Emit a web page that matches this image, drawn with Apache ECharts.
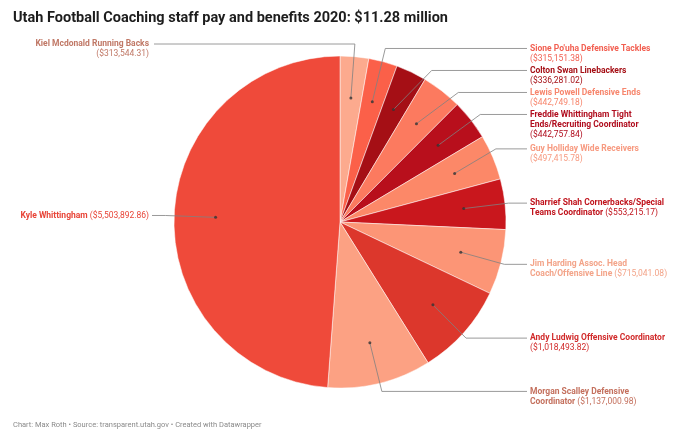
<!DOCTYPE html>
<html>
<head>
<meta charset="utf-8">
<script src="https://cdn.jsdelivr.net/npm/echarts@6/dist/echarts.min.js"></script>
<style>
  html, body { margin: 0; padding: 0; background: #fff; }
  #chart { width: 680px; height: 436px; }
</style>
</head>
<body>
<div id="chart"></div>
<script>
// 数据：按顺时针顺序（从正上方开始）
var names = [
    'Kiel Mcdonald Running Backs',
    'Sione Po\'uha Defensive Tackles',
    'Colton Swan Linebackers',
    'Lewis Powell Defensive Ends',
    'Freddie Whittingham Tight\nEnds/Recruiting Coordinator',
    'Guy Holliday Wide Receivers',
    'Sharrief Shah Cornerbacks/Special\nTeams Coordinator',
    'Jim Harding Assoc. Head\nCoach/Offensive Line',
    'Andy Ludwig Offensive Coordinator',
    'Morgan Scalley Defensive\nCoordinator',
    'Kyle Whittingham'
];
var values = [313544.31, 315151.38, 336281.02, 442749.18, 442757.84, 497415.78,
              553215.17, 715041.08, 1018493.82, 1137000.98, 5503892.86];
// 金额是否另起一行
var valueOnNewLine = [true, true, true, true, true, true, false, false, true, false, false];
// 标签放在左上方的项
var leftTopIndex = 0;

var sliceColors = ['#fcaa8e', '#fb6049', '#a50f15', '#fc7a5f', '#b80f1c', '#fc8868',
                   '#c9171d', '#fc9576', '#dc372c', '#fca183', '#ef4a3a'];
var labelColors = ['#c07866', '#f25f51', '#a50f15', '#f7866d', '#b00d1e', '#f79a80',
                   '#c0131c', '#f3a489', '#d12b2b', '#c4705d', '#e84538'];

var myChart = echarts.init(document.getElementById('chart'), null, { renderer: 'canvas' });

var CX = 340, CY = 222, R = 166;
var DOT_RATIO = 0.75;
var RIGHT_COL = 530, LEFT_COL = 149;

function money(v) {
    return '$' + v.toLocaleString('en-US', { minimumFractionDigits: 2, maximumFractionDigits: 2 });
}

var total = 0;
for (var i = 0; i < values.length; i++) total += values[i];

// 每块中点（用于圆点）
var dotData = [];
var acc = 0;
for (var i = 0; i < values.length; i++) {
    dotData.push([DOT_RATIO, acc + values[i] / 2]);
    acc += values[i];
}

var pieData = [], labelData = [], leftData = [];
for (var i = 0; i < values.length; i++) {
    pieData.push({ name: names[i], value: values[i], itemStyle: { color: sliceColors[i] } });
    labelData.push({
        name: names[i], value: values[i],
        label: { show: i !== leftTopIndex, color: labelColors[i] },
        labelLine: { show: i !== leftTopIndex }
    });
    leftData.push({
        name: names[i], value: values[i],
        label: { show: i === leftTopIndex, color: labelColors[i] },
        labelLine: { show: i === leftTopIndex }
    });
}

function formatLabel(p) {
    var lines = names[p.dataIndex].split('\n');
    var s = lines.map(function (l) { return '{n|' + l + '}'; }).join('\n');
    var v = '{v|(' + money(p.value) + ')}';
    return valueOnNewLine[p.dataIndex] ? s + '\n' + v : s + ' ' + v;
}

var labelStyle = {
    show: true,
    formatter: formatLabel,
    fontFamily: 'Roboto',
    fontSize: 8.5,
    lineHeight: 10,
    width: 170,
    rich: {
        n: { fontFamily: 'Roboto', fontSize: 8.5, fontWeight: 'bold', lineHeight: 10 },
        v: { fontFamily: 'Roboto', fontSize: 8.5, fontWeight: 'normal', lineHeight: 10 }
    }
};

// 标签放到固定列，引线对齐第一行
function columnLayout(p) {
    var pts = p.labelLinePoints;
    if (!pts) return;
    var res;
    if (pts[0][1] >= CY - 20) {
        // 下半部分：第一行对准引线原位置
        var ly = pts[2][1];
        res = { y: ly - 5, verticalAlign: 'top' };
    } else {
        var ly = p.labelRect.y + 5;
        res = {};
    }
    if (pts[0][0] > CX) {
        res.x = RIGHT_COL;
        res.align = 'left';
        res.labelLinePoints = [pts[0], [pts[1][0], ly], [RIGHT_COL - 3, ly]];
    } else {
        res.x = LEFT_COL;
        res.align = 'right';
        res.labelLinePoints = [pts[0], [pts[1][0], ly], [LEFT_COL + 3, ly]];
    }
    return res;
}

function leftTopLayout(p) {
    var pts = p.labelLinePoints;
    if (!pts) return;
    var y = CY - R - 12;
    return {
        x: LEFT_COL, y: y - 5, align: 'right', verticalAlign: 'top',
        labelLinePoints: [pts[0], [pts[0][0] + 4, y], [LEFT_COL + 5, y]]
    };
}

var lineStyle = { color: '#808080', width: 0.8 };

var option = {
    animation: false,
    title: [{
        text: 'Utah Football Coaching staff pay and benefits 2020: $11.28 million',
        left: 8,
        top: 6,
        textStyle: { fontFamily: 'Roboto', fontSize: 14.5, fontWeight: 'bold', color: '#1d1d1d' }
    }, {
        text: 'Chart: Max Roth • Source: transparent.utah.gov • Created with Datawrapper',
        left: 8,
        top: 416,
        textStyle: { fontFamily: 'Roboto', fontSize: 7.5, fontWeight: 'normal', color: '#8a8a8a' }
    }],
    polar: { center: [CX, CY], radius: R },
    angleAxis: { type: 'value', min: 0, max: total, startAngle: 90, show: false },
    radiusAxis: { type: 'value', min: 0, max: 1, show: false },
    series: [
        {
            name: 'pay',
            type: 'pie',
            center: [CX, CY],
            radius: R,
            startAngle: 90,
            silent: true,
            label: { show: false },
            labelLine: { show: false },
            itemStyle: { borderColor: '#fff', borderWidth: 0.5 },
            data: pieData
        },
        {
            name: 'labels',
            type: 'pie',
            center: [CX, CY],
            radius: R * DOT_RATIO,
            startAngle: 90,
            silent: true,
            z: 5,
            itemStyle: { color: 'rgba(0,0,0,0)' },
            label: labelStyle,
            labelLine: { show: true, length: 50, length2: 15, lineStyle: lineStyle },
            labelLayout: columnLayout,
            data: labelData
        },
        {
            name: 'labelsLeft',
            type: 'pie',
            center: [CX, CY],
            radius: R * DOT_RATIO,
            startAngle: 90,
            silent: true,
            z: 5,
            itemStyle: { color: 'rgba(0,0,0,0)' },
            label: labelStyle,
            labelLine: { show: true, length: 50, length2: 15, lineStyle: lineStyle },
            labelLayout: leftTopLayout,
            data: leftData
        },
        {
            name: 'dots',
            type: 'scatter',
            coordinateSystem: 'polar',
            symbolSize: 3,
            silent: true,
            z: 6,
            itemStyle: { color: '#333' },
            data: dotData
        }
    ]
};

myChart.setOption(option);
</script>
</body>
</html>
